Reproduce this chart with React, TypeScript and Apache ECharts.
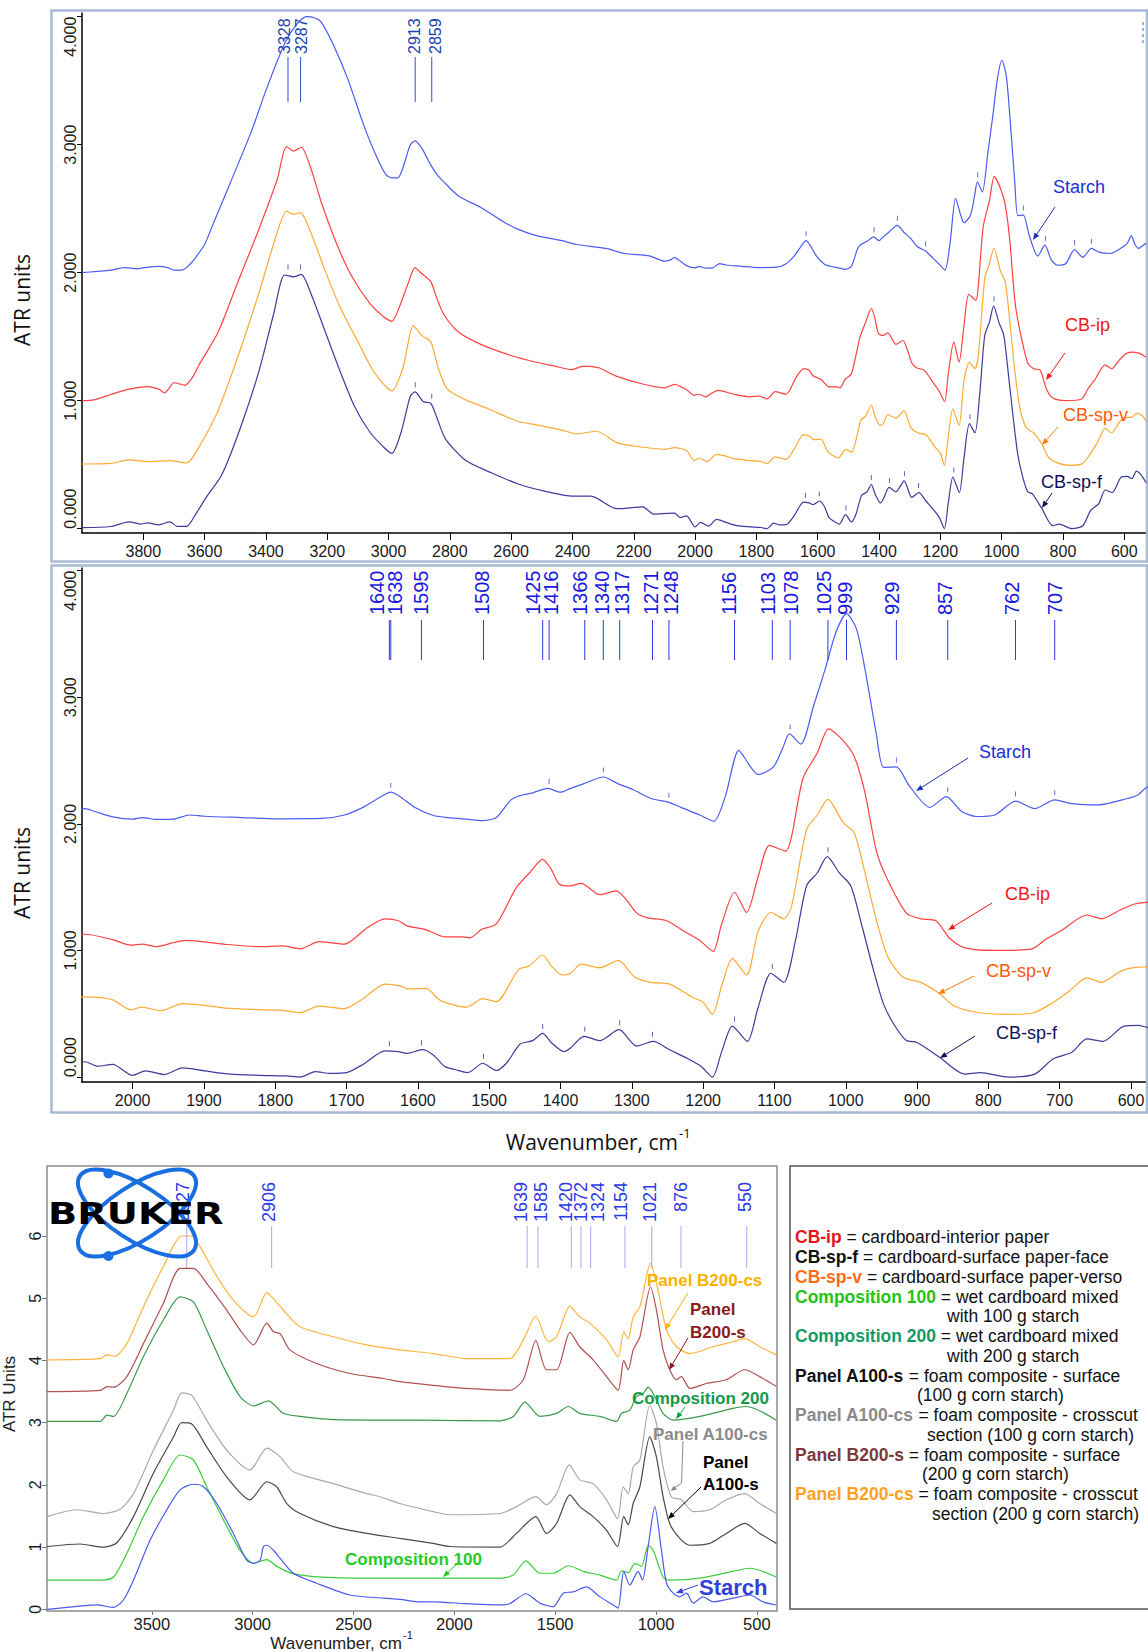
import React, { useEffect, useRef } from "react";
import * as echarts from "echarts";

// ---------------- Panels 1 & 2: same four spectra [wavenumber, ATR units] ----------------
const starch = [
  [4000, 2.0], [3950, 2.01], [3906, 2.02], [3860, 2.04], [3820, 2.03], [3798, 2.04], [3749, 2.05], [3720, 2.04],
  [3701, 2.02], [3674, 2.02], [3650, 2.06], [3629, 2.12], [3600, 2.22], [3574, 2.37], [3520, 2.68], [3448, 3.1],
  [3399, 3.43], [3339, 3.79], [3303, 3.93], [3267, 4.0], [3240, 3.99], [3220, 3.96], [3182, 3.79], [3134, 3.52],
  [3085, 3.18], [3049, 2.96], [3010, 2.77], [2990, 2.74], [2970, 2.74], [2953, 2.82], [2929, 3.0], [2913, 3.03],
  [2900, 3.0], [2886, 2.95], [2862, 2.84], [2840, 2.76], [2820, 2.71], [2772, 2.6], [2699, 2.51], [2627, 2.4],
  [2579, 2.34], [2518, 2.29], [2434, 2.25], [2386, 2.22], [2291, 2.19], [2231, 2.15], [2147, 2.13], [2100, 2.09],
  [2080, 2.1], [2067, 2.12], [2054, 2.1], [2028, 2.055], [2000, 2.037], [1987, 2.05], [1966, 2.035], [1943, 2.037],
  [1920, 2.07], [1899, 2.06], [1847, 2.05], [1796, 2.04], [1734, 2.043], [1703, 2.07], [1677, 2.13], [1656, 2.2],
  [1638, 2.25], [1625, 2.215], [1604, 2.13], [1578, 2.066], [1558, 2.05], [1532, 2.037], [1509, 2.026], [1490, 2.05],
  [1470, 2.187], [1459, 2.22], [1439, 2.245], [1418, 2.28], [1400, 2.25], [1386, 2.28], [1366, 2.32], [1340, 2.37],
  [1319, 2.316], [1298, 2.27], [1273, 2.2], [1248, 2.17], [1231, 2.13], [1205, 2.07], [1185, 2.02], [1169, 2.215],
  [1150, 2.58], [1133, 2.446], [1123, 2.39], [1102, 2.446], [1089, 2.59], [1079, 2.71], [1063, 2.63], [1045, 2.935],
  [1029, 3.22], [1014, 3.51], [999, 3.66], [985, 3.54], [973, 3.22], [957, 2.705], [947, 2.446], [929, 2.45],
  [911, 2.3], [882, 2.13], [859, 2.215], [838, 2.1], [817, 2.058], [791, 2.07], [762, 2.18], [735, 2.12],
  [707, 2.19], [683, 2.16], [646, 2.15], [605, 2.2], [590, 2.23], [577, 2.29], [565, 2.22], [553, 2.19],
  [540, 2.21], [529, 2.23],
];
const cbIp = [
  [4000, 1.0], [3960, 1.006], [3906, 1.048], [3846, 1.09], [3786, 1.11], [3749, 1.09], [3731, 1.06], [3715, 1.1],
  [3701, 1.14], [3680, 1.13], [3665, 1.12], [3640, 1.18], [3617, 1.285], [3556, 1.535], [3496, 1.9], [3423, 2.34],
  [3363, 2.73], [3333, 2.985], [3309, 2.95], [3285, 2.98], [3254, 2.82], [3218, 2.54], [3170, 2.23], [3122, 1.98],
  [3061, 1.76], [3013, 1.65], [2989, 1.62], [2965, 1.73], [2934, 1.93], [2914, 2.04], [2895, 2.0], [2880, 1.97],
  [2862, 1.93], [2844, 1.81], [2820, 1.675], [2772, 1.536], [2699, 1.44], [2603, 1.355], [2518, 1.3], [2458, 1.27],
  [2403, 1.243], [2364, 1.27], [2315, 1.257], [2255, 1.19], [2171, 1.13], [2100, 1.1], [2067, 1.128], [2028, 1.085],
  [2003, 1.042], [1987, 1.05], [1966, 1.03], [1941, 1.065], [1925, 1.08], [1873, 1.05], [1822, 1.03], [1790, 1.036],
  [1765, 1.013], [1739, 1.07], [1703, 1.05], [1671, 1.18], [1646, 1.25], [1628, 1.237], [1615, 1.194], [1589, 1.165],
  [1563, 1.108], [1537, 1.108], [1527, 1.1], [1511, 1.165], [1490, 1.21], [1462, 1.496], [1444, 1.61], [1425, 1.72],
  [1413, 1.64], [1402, 1.525], [1387, 1.51], [1371, 1.53], [1345, 1.44], [1322, 1.47], [1309, 1.41], [1293, 1.295],
  [1278, 1.258], [1252, 1.237], [1226, 1.15], [1205, 1.08], [1186, 0.993], [1174, 1.21], [1156, 1.46], [1139, 1.3],
  [1123, 1.58], [1107, 1.83], [1084, 1.785], [1076, 1.9], [1060, 2.36], [1040, 2.56], [1024, 2.75], [1004, 2.66],
  [988, 2.53], [973, 2.245], [957, 1.785], [941, 1.554], [915, 1.295], [895, 1.25], [874, 1.237], [854, 1.094],
  [833, 1.02], [791, 1.0], [739, 1.013], [718, 1.094], [698, 1.156], [662, 1.28], [641, 1.25], [615, 1.32],
  [595, 1.367], [577, 1.38], [550, 1.37], [529, 1.34],
];
const cbSpV = [
  [4000, 0.505], [3906, 0.51], [3846, 0.538], [3786, 0.524], [3713, 0.532], [3659, 0.513], [3617, 0.644], [3556, 0.923],
  [3484, 1.396], [3423, 1.84], [3363, 2.316], [3333, 2.48], [3309, 2.456], [3288, 2.47], [3254, 2.316], [3206, 2.01],
  [3158, 1.73], [3098, 1.452], [3049, 1.23], [2989, 1.076], [2953, 1.257], [2919, 1.586], [2892, 1.51], [2862, 1.458],
  [2838, 1.257], [2808, 1.09], [2748, 1.006], [2675, 0.937], [2579, 0.839], [2518, 0.811], [2434, 0.77], [2386, 0.741],
  [2321, 0.761], [2255, 0.672], [2195, 0.644], [2100, 0.62], [2067, 0.633], [2028, 0.61], [2003, 0.532], [1987, 0.552],
  [1961, 0.524], [1930, 0.58], [1899, 0.567], [1873, 0.547], [1822, 0.532], [1790, 0.527], [1765, 0.509], [1739, 0.561],
  [1703, 0.541], [1677, 0.619], [1646, 0.734], [1625, 0.72], [1615, 0.696], [1589, 0.7], [1568, 0.604], [1532, 0.552],
  [1509, 0.619], [1490, 0.596], [1459, 0.849], [1444, 0.878], [1425, 0.964], [1413, 0.878], [1397, 0.806], [1386, 0.82],
  [1371, 0.892], [1345, 0.863], [1319, 0.921], [1296, 0.791], [1273, 0.748], [1247, 0.734], [1216, 0.633], [1200, 0.59],
  [1187, 0.495], [1174, 0.72], [1159, 0.935], [1139, 0.806], [1123, 1.151], [1105, 1.3], [1087, 1.25], [1076, 1.35],
  [1055, 1.957], [1040, 2.07], [1025, 2.193], [1004, 2.014], [988, 1.928], [973, 1.611], [957, 1.237], [941, 0.95],
  [920, 0.791], [895, 0.748], [869, 0.662], [848, 0.561], [817, 0.512], [776, 0.495], [739, 0.504], [713, 0.576],
  [687, 0.676], [662, 0.783], [641, 0.748], [615, 0.835], [590, 0.869], [575, 0.87], [560, 0.9], [540, 0.88],
  [529, 0.84],
];
const cbSpF = [
  [4000, 0.008], [3906, 0.017], [3846, 0.053], [3810, 0.036], [3786, 0.045], [3749, 0.03], [3713, 0.053], [3689, 0.017],
  [3659, 0.017], [3629, 0.114], [3592, 0.254], [3544, 0.421], [3484, 0.783], [3423, 1.229], [3375, 1.675], [3339, 1.982],
  [3309, 1.968], [3285, 1.987], [3254, 1.842], [3206, 1.536], [3158, 1.229], [3110, 0.95], [3061, 0.755], [3013, 0.63],
  [2989, 0.588], [2959, 0.755], [2929, 1.034], [2914, 1.068], [2886, 0.992], [2862, 0.978], [2838, 0.839], [2814, 0.7],
  [2748, 0.532], [2663, 0.435], [2579, 0.351], [2494, 0.295], [2397, 0.254], [2340, 0.254], [2255, 0.156], [2171, 0.17],
  [2135, 0.114], [2090, 0.12], [2067, 0.121], [2049, 0.086], [2028, 0.1], [2000, 0.014], [1982, 0.049], [1956, 0.02],
  [1930, 0.072], [1899, 0.049], [1863, 0.023], [1822, 0.014], [1785, 0.009], [1765, 0.0], [1744, 0.043], [1723, 0.029],
  [1700, 0.035], [1677, 0.1], [1646, 0.207], [1628, 0.201], [1615, 0.187], [1594, 0.216], [1578, 0.173], [1563, 0.086],
  [1547, 0.058], [1530, 0.035], [1509, 0.109], [1490, 0.052], [1475, 0.115], [1457, 0.259], [1439, 0.288], [1425, 0.345],
  [1413, 0.273], [1395, 0.201], [1386, 0.23], [1367, 0.322], [1345, 0.288], [1318, 0.374], [1293, 0.245], [1270, 0.282],
  [1247, 0.216], [1221, 0.144], [1203, 0.086], [1187, 0.0], [1174, 0.201], [1159, 0.403], [1138, 0.282], [1123, 0.547],
  [1105, 0.82], [1087, 0.748], [1071, 1.065], [1055, 1.511], [1040, 1.612], [1026, 1.741], [1009, 1.612], [993, 1.511],
  [978, 1.209], [962, 0.863], [947, 0.576], [931, 0.403], [915, 0.288], [900, 0.273], [869, 0.158], [833, 0.023],
  [812, 0.035], [771, 0.0], [735, 0.023], [709, 0.144], [683, 0.196], [662, 0.302], [639, 0.282], [610, 0.403],
  [590, 0.409], [575, 0.39], [560, 0.45], [545, 0.42], [529, 0.36],
];

// small peak-pick marks drawn just above the curves (wavenumber, curve value)
const starchMarks = [[1638, 2.25], [1416, 2.28], [1340, 2.37], [1248, 2.17], [1078, 2.71], [929, 2.45], [857, 2.215], [762, 2.18], [707, 2.19]];
const cbSpFMarks = [
  [3328, 1.99], [3287, 1.99], [2913, 1.07], [2859, 0.98], [1640, 0.207], [1595, 0.216], [1508, 0.109], [1425, 0.345],
  [1366, 0.322], [1317, 0.374], [1271, 0.282], [1156, 0.403], [1103, 0.82], [1025, 1.741],
];

// ---------------- Panel 3: seven spectra ----------------
const p3Starch = [
  [4020, 0.0], [3922, 0.03], [3773, 0.07], [3690, 0.03], [3641, 0.15], [3591, 0.47], [3509, 1.11], [3426, 1.6],
  [3360, 1.92], [3294, 2.01], [3244, 1.97], [3178, 1.7], [3096, 1.22], [3030, 0.79], [2996, 0.74], [2963, 0.79],
  [2947, 1.01], [2930, 1.03], [2897, 0.95], [2864, 0.82], [2798, 0.58], [2683, 0.42], [2517, 0.23], [2352, 0.18],
  [2270, 0.16], [2170, 0.12], [2105, 0.12], [1939, 0.09], [1774, 0.07], [1725, 0.09], [1645, 0.25], [1576, 0.1],
  [1510, 0.04], [1460, 0.26], [1411, 0.28], [1345, 0.36], [1278, 0.2], [1212, 0.07], [1188, 0.02], [1160, 0.61],
  [1130, 0.39], [1089, 0.61], [1067, 0.47], [1039, 1.01], [1006, 1.65], [973, 0.95], [948, 0.42], [915, 0.26],
  [882, 0.2], [849, 0.26], [816, 0.1], [766, 0.2], [717, 0.12], [618, 0.18], [535, 0.23], [469, 0.12], [403, 0.07],
];
const p3Comp100 = [
  [4020, 0.47], [3756, 0.47], [3690, 0.52], [3624, 0.9], [3542, 1.49], [3443, 2.08], [3360, 2.48], [3294, 2.4],
  [3228, 1.97], [3145, 1.44], [3063, 0.95], [2996, 0.74], [2930, 0.8], [2881, 0.69], [2798, 0.57], [2600, 0.51],
  [2170, 0.5], [1774, 0.5], [1708, 0.55], [1645, 0.78], [1576, 0.58], [1510, 0.58], [1435, 0.7], [1361, 0.61],
  [1278, 0.55], [1196, 0.47], [1171, 0.62], [1138, 0.59], [1105, 0.74], [1072, 0.69], [1039, 1.03], [1014, 0.95],
  [965, 0.52], [932, 0.47], [783, 0.5], [618, 0.61], [535, 0.66], [403, 0.52],
];
const p3A100s = [
  [4020, 1.01], [3856, 1.05], [3740, 1.0], [3674, 1.07], [3591, 1.49], [3492, 2.19], [3393, 2.77], [3352, 3.0],
  [3302, 2.98], [3228, 2.61], [3129, 2.13], [3013, 1.76], [2930, 2.05], [2881, 1.97], [2831, 1.7], [2765, 1.54],
  [2600, 1.33], [2435, 1.22], [2270, 1.14], [2105, 1.06], [2022, 1.01], [1774, 1.0], [1692, 1.22], [1596, 1.49],
  [1543, 1.22], [1493, 1.38], [1427, 1.84], [1378, 1.65], [1312, 1.49], [1245, 1.27], [1191, 1.01], [1160, 1.49],
  [1138, 1.36], [1113, 1.7], [1080, 1.97], [1031, 2.77], [998, 2.45], [965, 1.81], [932, 1.38], [882, 1.14],
  [832, 1.03], [733, 1.06], [651, 1.22], [560, 1.38], [486, 1.22], [403, 1.06],
];
const p3A100cs = [
  [4020, 1.49], [3872, 1.6], [3740, 1.54], [3657, 1.61], [3591, 1.86], [3492, 2.56], [3393, 3.2], [3352, 3.48],
  [3302, 3.44], [3228, 3.04], [3129, 2.56], [3013, 2.24], [2930, 2.59], [2864, 2.45], [2798, 2.21], [2600, 2.02],
  [2435, 1.86], [2369, 1.81], [2270, 1.7], [2105, 1.57], [2022, 1.52], [1774, 1.54], [1692, 1.65], [1596, 1.81],
  [1543, 1.68], [1493, 1.86], [1430, 2.32], [1378, 2.08], [1312, 2.02], [1245, 1.76], [1191, 1.46], [1163, 1.97],
  [1138, 1.86], [1113, 2.29], [1080, 2.4], [1031, 3.28], [998, 2.99], [965, 2.29], [924, 1.81], [874, 1.76],
  [816, 1.57], [733, 1.6], [651, 1.76], [560, 1.86], [486, 1.7], [403, 1.54],
];
const p3Comp200 = [
  [4020, 3.02], [3756, 3.02], [3723, 3.12], [3690, 3.1], [3624, 3.47], [3542, 4.06], [3443, 4.65], [3360, 5.02],
  [3294, 4.94], [3228, 4.49], [3145, 3.9], [3063, 3.42], [2996, 3.27], [2922, 3.35], [2848, 3.15], [2765, 3.1],
  [2600, 3.05], [2170, 3.04], [1774, 3.03], [1708, 3.1], [1650, 3.33], [1576, 3.1], [1493, 3.15], [1435, 3.26],
  [1378, 3.15], [1278, 3.1], [1196, 3.02], [1171, 3.15], [1130, 3.2], [1097, 3.42], [1064, 3.47], [1039, 3.57],
  [1006, 3.42], [965, 3.15], [915, 3.04], [783, 3.1], [618, 3.23], [552, 3.26], [403, 3.04],
];
const p3B200s = [
  [4020, 3.5], [3756, 3.52], [3723, 3.58], [3690, 3.57], [3624, 3.74], [3542, 4.27], [3443, 4.92], [3360, 5.48],
  [3294, 5.48], [3228, 5.24], [3129, 4.81], [3063, 4.49], [2996, 4.25], [2930, 4.6], [2897, 4.46], [2864, 4.43],
  [2815, 4.17], [2683, 3.95], [2517, 3.79], [2352, 3.71], [2270, 3.66], [2105, 3.6], [1939, 3.55], [1725, 3.52],
  [1658, 3.69], [1596, 4.32], [1543, 3.85], [1493, 3.85], [1427, 4.45], [1378, 4.22], [1312, 4.01], [1245, 3.74],
  [1188, 3.52], [1160, 4.0], [1138, 3.85], [1113, 4.17], [1080, 4.38], [1027, 5.18], [998, 4.81], [965, 4.17],
  [932, 3.85], [899, 3.69], [874, 3.74], [832, 3.55], [750, 3.63], [651, 3.69], [560, 3.85], [486, 3.74], [403, 3.58],
];
const p3B200cs = [
  [4020, 4.01], [3756, 4.03], [3723, 4.09], [3682, 4.07], [3624, 4.27], [3542, 4.86], [3443, 5.51], [3352, 6.0],
  [3302, 6.0], [3261, 5.83], [3178, 5.35], [3096, 4.97], [2996, 4.7], [2930, 5.09], [2881, 4.93], [2848, 4.81],
  [2765, 4.54], [2600, 4.38], [2435, 4.25], [2270, 4.17], [2105, 4.11], [1939, 4.03], [1725, 4.03], [1658, 4.33],
  [1596, 4.71], [1535, 4.3], [1493, 4.38], [1427, 4.87], [1378, 4.7], [1328, 4.6], [1245, 4.33], [1188, 4.06],
  [1160, 4.46], [1138, 4.35], [1113, 4.7], [1080, 4.86], [1027, 5.56], [990, 5.13], [948, 4.49], [899, 4.22],
  [832, 4.11], [717, 4.22], [618, 4.3], [560, 4.35], [486, 4.22], [403, 4.09],
];

// ---------------- Peak annotations & tick labels ----------------
const p1Peaks = [3328, 3287, 2913, 2859];
const p2Peaks = [1640, 1638, 1595, 1508, 1425, 1416, 1366, 1340, 1317, 1271, 1248, 1156, 1103, 1078, 1025, 999, 929, 857, 762, 707];
const p3Peaks = [3327, 2906, 1639, 1585, 1420, 1372, 1324, 1154, 1021, 876, 550];

const p1XTicks = [3800, 3600, 3400, 3200, 3000, 2800, 2600, 2400, 2200, 2000, 1800, 1600, 1400, 1200, 1000, 800, 600];
const p2XTicks = [2000, 1900, 1800, 1700, 1600, 1500, 1400, 1300, 1200, 1100, 1000, 900, 800, 700, 600];
const p3XTicks = [3500, 3000, 2500, 2000, 1500, 1000, 500];
const p12YTicks = [0, 1, 2, 3, 4];
const p3YTicks = [0, 1, 2, 3, 4, 5, 6];

const legendRows = [
  { key: "CB-ip", color: "#e8141c", rest: " = cardboard-interior paper" },
  { key: "CB-sp-f", color: "#111111", rest: " = cardboard-surface paper-face" },
  { key: "CB-sp-v", color: "#ff6a13", rest: " = cardboard-surface paper-verso" },
  { key: "Composition 100", color: "#22c414", rest: " = wet cardboard mixed", cont: "with 100 g starch", cx: 947 },
  { key: "Composition 200", color: "#129a66", rest: " = wet cardboard mixed", cont: "with 200 g starch", cx: 947 },
  { key: "Panel A100-s", color: "#111111", rest: " = foam composite - surface", cont: "(100 g corn starch)", cx: 917 },
  { key: "Panel A100-cs", color: "#8a8a8a", rest: " = foam composite - crosscut", cont: "section (100 g corn starch)", cx: 927 },
  { key: "Panel B200-s", color: "#7a3a3a", rest: " = foam composite - surface", cont: "(200 g corn starch)", cx: 922 },
  { key: "Panel B200-cs", color: "#ff9f1f", rest: " = foam composite - crosscut", cont: "section (200 g corn starch)", cx: 932 },
];

// ---------------- styling ----------------
const ARIAL = '"Liberation Sans", Arial, sans-serif';
const SANS = '"Open Sans", "Noto Sans", sans-serif';
const W = 1148;
const H = 1652;

const C = {
  starch: "#4b5cf2",
  ip: "#ff4040",
  spv: "#ffaa33",
  spf: "#3c3c9c",
  s3: "#4a5af0",
  c100: "#3ccf3c",
  a100s: "#4a4a4a",
  a100cs: "#a9a9a9",
  c200: "#3a9a4a",
  b200s: "#b05050",
  b200cs: "#ffb43c",
};

const P1_NUDGE: Record<number, number> = { 3328: -3, 3287: 1, 2913: -1, 2859: 4 };
const P2_NUDGE: Record<number, number> = {
  1640: -12, 1638: 4, 1595: 0, 1508: -1, 1425: -10, 1416: 2, 1366: -5, 1340: -1, 1317: 2, 1271: -2,
  1248: 2, 1156: -6, 1103: -4, 1078: 1, 1025: -4, 999: -1, 929: -4, 857: -3, 762: -3, 707: 0,
};
const P3_NUDGE: Record<number, number> = {
  3327: -4, 2906: -3, 1639: -6, 1585: 3, 1420: -5, 1372: 0, 1324: 7, 1154: -4, 1021: -2, 876: 0, 550: -2,
};

function line(name: string, data: number[][], color: string, idx: number, width = 1.2) {
  return {
    type: "line",
    name,
    data,
    xAxisIndex: idx,
    yAxisIndex: idx,
    showSymbol: false,
    symbol: "none",
    smooth: 0.25,
    silent: true,
    lineStyle: { color, width },
    itemStyle: { color },
    z: 3,
  };
}

function marks(data: number[][], color: string, idx: number) {
  return {
    type: "scatter",
    data,
    xAxisIndex: idx,
    yAxisIndex: idx,
    symbol: "rect",
    symbolSize: [1, 5],
    symbolOffset: [0, -7],
    itemStyle: { color },
    silent: true,
    z: 4,
  };
}

function peakSeries(
  idx: number,
  peaks: number[],
  nudge: Record<number, number>,
  cfg: { y1: number; y2: number; ty: number; align: string; lineColor: string; textColor: string; font: string }
) {
  return {
    type: "custom",
    coordinateSystem: "cartesian2d",
    xAxisIndex: idx,
    yAxisIndex: idx,
    data: peaks.map((p) => [p, 0]),
    clip: false,
    silent: true,
    z: 6,
    renderItem: (_params: any, api: any) => {
      const v = api.value(0);
      const x = api.coord([v, 0])[0];
      const n = nudge[v] || 0;
      return {
        type: "group",
        children: [
          {
            type: "line",
            shape: { x1: x, y1: cfg.y1, x2: x, y2: cfg.y2 },
            style: { stroke: cfg.lineColor, lineWidth: 1 },
          },
          {
            type: "text",
            x: x + n,
            y: cfg.ty,
            rotation: Math.PI / 2,
            style: {
              text: String(v),
              fill: cfg.textColor,
              font: cfg.font,
              align: cfg.align,
              textAlign: cfg.align,
              verticalAlign: "middle",
              textVerticalAlign: "middle",
            },
          },
        ],
      };
    },
  };
}

function arrow(x1: number, y1: number, x2: number, y2: number, color: string, head = 7) {
  const a = Math.atan2(y2 - y1, x2 - x1);
  const hx = x2 - head * Math.cos(a);
  const hy = y2 - head * Math.sin(a);
  const px = -Math.sin(a) * head * 0.4;
  const py = Math.cos(a) * head * 0.4;
  return [
    { type: "line", shape: { x1, y1, x2: hx, y2: hy }, style: { stroke: color, lineWidth: 1 }, z: 50 },
    {
      type: "polygon",
      shape: { points: [[x2, y2], [hx + px, hy + py], [hx - px, hy - py]] },
      style: { fill: color },
      z: 50,
    },
  ];
}

function txt(x: number, y: number, text: string, fill: string, font: string, extra: any = {}) {
  return {
    type: "text",
    x,
    y,
    z: 60,
    ...extra,
    style: {
      text,
      fill,
      font,
      align: extra.align || "left",
      textAlign: extra.align || "left",
      verticalAlign: "middle",
      textVerticalAlign: "middle",
    },
  };
}

function xAxis(gi: number, min: number, max: number, ticks: number[], o: any) {
  return {
    gridIndex: gi,
    type: "value",
    inverse: true,
    min,
    max,
    axisLine: { show: o.line, onZero: false, lineStyle: { color: "#000", width: 1.5 } },
    axisTick: { show: true, customValues: ticks, length: o.tickLen, lineStyle: { color: o.tickColor, width: 1 } },
    axisLabel: {
      customValues: ticks,
      formatter: (v: number) => String(v),
      fontSize: o.fontSize,
      fontFamily: ARIAL,
      color: "#1a1a1a",
      margin: o.margin,
    },
    splitLine: { show: false },
  };
}

function yAxis(gi: number, min: number, max: number, ticks: number[], fmt: (v: number) => string, o: any) {
  const label: any = {
    customValues: ticks,
    formatter: fmt,
    rotate: 90,
    fontSize: 16,
    fontFamily: ARIAL,
    color: "#1a1a1a",
    margin: 4,
    align: "center",
    verticalAlign: "bottom",
  };
  if (o.clampEnds) {
    label.alignMinLabel = "left";
    label.alignMaxLabel = "right";
  }
  return {
    gridIndex: gi,
    type: "value",
    min,
    max,
    axisLine: { show: o.line, onZero: false, lineStyle: { color: "#000", width: 1.5 } },
    axisTick: { show: true, customValues: ticks, length: 5, lineStyle: { color: o.tickColor, width: 1 } },
    axisLabel: label,
    splitLine: { show: false },
  };
}

function buildOption() {
  const graphics: any[] = [];

  // frames
  graphics.push(
    { type: "rect", shape: { x: 51.5, y: 10.5, width: 1095.5, height: 551 }, style: { fill: "none", stroke: "#a9bad4", lineWidth: 2.5 }, z: 1 },
    { type: "rect", shape: { x: 51.5, y: 565.5, width: 1095.5, height: 547 }, style: { fill: "none", stroke: "#a9bad4", lineWidth: 2.5 }, z: 1 },
    { type: "rect", shape: { x: 47, y: 1166, width: 730, height: 445 }, style: { fill: "none", stroke: "#8c8c8c", lineWidth: 1.5 }, z: 1 },
    { type: "rect", shape: { x: 790, y: 1166, width: 420, height: 443 }, style: { fill: "none", stroke: "#555555", lineWidth: 1.5 }, z: 1 },
    { type: "line", shape: { x1: 1143, y1: 22, x2: 1143, y2: 44 }, style: { stroke: "#3a5ad8", lineWidth: 1, lineDash: [3, 3] }, z: 1 }
  );

  // axis titles
  graphics.push(
    txt(22, 300, "ATR units", "#111", `21px ${SANS}`, { rotation: Math.PI / 2, align: "center" }),
    txt(22, 873, "ATR units", "#111", `21px ${SANS}`, { rotation: Math.PI / 2, align: "center" }),
    txt(678, 1142, "Wavenumber, cm", "#111", `21px ${SANS}`, { align: "right" }),
    txt(679, 1133, "-1", "#111", `13px ${SANS}`),
    txt(9, 1394, "ATR Units", "#222", `17px ${ARIAL}`, { rotation: Math.PI / 2, align: "center" }),
    txt(402, 1643, "Wavenumber, cm", "#222", `17px ${ARIAL}`, { align: "right" }),
    txt(403, 1635, "-1", "#222", `11px ${ARIAL}`)
  );

  // panel 1 curve labels
  graphics.push(
    txt(1053, 187, "Starch", "#1c2fd8", `18px ${ARIAL}`),
    ...arrow(1055, 207, 1033, 240, "#1c2fb8"),
    txt(1065, 325, "CB-ip", "#f01818", `18px ${ARIAL}`),
    ...arrow(1065, 353, 1046, 380, "#f01818"),
    txt(1063, 415, "CB-sp-v", "#ff5a0a", `18px ${ARIAL}`),
    ...arrow(1058, 427, 1042, 445, "#ff7a0a"),
    txt(1041, 482, "CB-sp-f", "#10105a", `18px ${ARIAL}`),
    ...arrow(1052, 493, 1042, 508, "#10105a")
  );
  // panel 2 curve labels
  graphics.push(
    txt(979, 752, "Starch", "#1c2fd8", `18px ${ARIAL}`),
    ...arrow(968, 758, 916, 791, "#1c2fb8"),
    txt(1005, 894, "CB-ip", "#f01818", `18px ${ARIAL}`),
    ...arrow(992, 903, 948, 930, "#f01818"),
    txt(986, 971, "CB-sp-v", "#ff5a0a", `18px ${ARIAL}`),
    ...arrow(974, 976, 938, 994, "#ff7a0a"),
    txt(996, 1033, "CB-sp-f", "#10105a", `18px ${ARIAL}`),
    ...arrow(975, 1036, 940, 1058, "#10105a")
  );
  // panel 3 curve labels
  const B = (s: number) => `bold ${s}px ${ARIAL}`;
  graphics.push(
    txt(647, 1280, "Panel B200-cs", "#ffb000", B(17)),
    ...arrow(688, 1293, 665, 1330, "#ffb000"),
    txt(690, 1309, "Panel", "#8b1a1a", B(17)),
    txt(690, 1332, "B200-s", "#8b1a1a", B(17)),
    ...arrow(688, 1338, 669, 1370, "#8b1a1a"),
    txt(632, 1398, "Composition 200", "#12994a", B(17)),
    ...arrow(685, 1407, 676, 1419, "#12994a"),
    txt(653, 1434, "Panel A100-cs", "#8a8a8a", B(17)),
    { type: "line", shape: { x1: 683, y1: 1441, x2: 681.5, y2: 1483 }, style: { stroke: "#8a8a8a", lineWidth: 1 }, z: 50 },
    ...arrow(681.5, 1483, 670.5, 1491, "#8a8a8a", 6),
    txt(703, 1462, "Panel", "#000", B(17)),
    txt(703, 1484, "A100-s", "#000", B(17)),
    ...arrow(701, 1487, 668, 1519, "#000"),
    txt(345, 1559, "Composition 100", "#22cc22", B(17)),
    ...arrow(458, 1563, 443, 1577, "#22cc22"),
    txt(699, 1587, "Starch", "#3040d8", B(22)),
    ...arrow(698, 1585, 676, 1593, "#3040d8")
  );

  // Bruker logo
  graphics.push(
    { type: "ellipse", x: 137, y: 1213, rotation: -0.576, shape: { cx: 0, cy: 0, rx: 68, ry: 27 }, style: { fill: "none", stroke: "#1a6fe0", lineWidth: 4 }, z: 100 },
    { type: "ellipse", x: 137, y: 1213, rotation: 0.576, shape: { cx: 0, cy: 0, rx: 68, ry: 27 }, style: { fill: "none", stroke: "#1a6fe0", lineWidth: 4 }, z: 100 },
    { type: "circle", shape: { cx: 108.5, cy: 1173.5, r: 5 }, style: { fill: "#1a6fe0" }, z: 101 },
    { type: "circle", shape: { cx: 108.5, cy: 1256, r: 5 }, style: { fill: "#1a6fe0" }, z: 101 },
    {
      type: "text",
      x: 48,
      y: 1214,
      scaleX: 1.28,
      z: 102,
      style: { text: "BRUKER", fill: "#000", font: `900 30px "DejaVu Sans", sans-serif`, align: "left", textAlign: "left", verticalAlign: "middle", textVerticalAlign: "middle" },
    }
  );

  // legend box text
  let y = 1237.3;
  const step = 19.75;
  legendRows.forEach((r) => {
    graphics.push({
      type: "text",
      x: 795,
      y,
      z: 60,
      style: {
        text: `{k|${r.key}}{r|${r.rest}}`,
        rich: {
          k: { fill: r.color, fontWeight: "bold", fontSize: 17.5, fontFamily: ARIAL },
          r: { fill: "#111", fontSize: 17.5, fontFamily: ARIAL },
        },
        align: "left",
        verticalAlign: "middle",
      },
    });
    y += step;
    if (r.cont) {
      graphics.push(txt(r.cx as number, y, r.cont, "#111", `17.5px ${ARIAL}`));
      y += step;
    }
  });

  return {
    animation: false,
    backgroundColor: "#ffffff",
    grid: [
      { left: 82, top: 13, width: 1064, height: 520, outerBoundsMode: "none", containLabel: false },
      { left: 82, top: 568, width: 1064, height: 514, outerBoundsMode: "none", containLabel: false },
      { left: 47, top: 1166, width: 730, height: 445, outerBoundsMode: "none", containLabel: false },
    ],
    xAxis: [
      xAxis(0, 529, 4000, p1XTicks, { line: true, tickLen: 7, tickColor: "#000", fontSize: 16, margin: 10 }),
      xAxis(1, 579, 2071, p2XTicks, { line: true, tickLen: 7, tickColor: "#000", fontSize: 16, margin: 10 }),
      xAxis(2, 400, 4020, p3XTicks, { line: false, tickLen: 4, tickColor: "#777", fontSize: 16.5, margin: 4 }),
    ],
    yAxis: [
      yAxis(0, -0.034, 4.029, p12YTicks, (v) => v.toFixed(3), { line: true, tickColor: "#000", clampEnds: true }),
      yAxis(1, -0.039, 4.021, p12YTicks, (v) => v.toFixed(3), { line: true, tickColor: "#000", clampEnds: true }),
      yAxis(2, -0.027, 7.125, p3YTicks, (v) => String(v), { line: false, tickColor: "#777", clampEnds: false }),
    ],
    series: [
      line("Starch", starch, C.starch, 0),
      line("CB-ip", cbIp, C.ip, 0),
      line("CB-sp-v", cbSpV, C.spv, 0),
      line("CB-sp-f", cbSpF, C.spf, 0),
      marks(starchMarks, "#3a4ad8", 0),
      marks(cbSpFMarks, "#3c3c9c", 0),
      line("Starch", starch, C.starch, 1),
      line("CB-ip", cbIp, C.ip, 1),
      line("CB-sp-v", cbSpV, C.spv, 1),
      line("CB-sp-f", cbSpF, C.spf, 1),
      marks(starchMarks, "#3a4ad8", 1),
      marks(cbSpFMarks, "#3c3c9c", 1),
      line("Panel B200-cs", p3B200cs, C.b200cs, 2),
      line("Panel B200-s", p3B200s, C.b200s, 2),
      line("Composition 200", p3Comp200, C.c200, 2),
      line("Panel A100-cs", p3A100cs, C.a100cs, 2),
      line("Panel A100-s", p3A100s, C.a100s, 2),
      line("Composition 100", p3Comp100, C.c100, 2),
      line("Starch", p3Starch, C.s3, 2),
      peakSeries(0, p1Peaks, P1_NUDGE, { y1: 57, y2: 102, ty: 54, align: "left", lineColor: "#3050c8", textColor: "#2040b0", font: `16px ${ARIAL}` }),
      peakSeries(1, p2Peaks, P2_NUDGE, { y1: 620, y2: 660, ty: 615, align: "left", lineColor: "#2a3ae0", textColor: "#1818e0", font: `20px ${ARIAL}` }),
      peakSeries(2, p3Peaks, P3_NUDGE, { y1: 1226, y2: 1268, ty: 1182, align: "right", lineColor: "rgba(90,100,235,0.55)", textColor: "#2a3ae6", font: `18px ${ARIAL}` }),
    ],
    graphic: { elements: graphics },
  };
}

export default function App() {
  const ref = useRef<HTMLDivElement>(null);
  useEffect(() => {
    if (!ref.current) return;
    const chart = echarts.init(ref.current, undefined, { renderer: "svg" });
    chart.setOption(buildOption() as any);
    return () => chart.dispose();
  }, []);
  return (
    <div
      ref={ref}
      style={{ position: "absolute", left: 0, top: 0, width: W, height: H, background: "#fff" }}
    />
  );
}
